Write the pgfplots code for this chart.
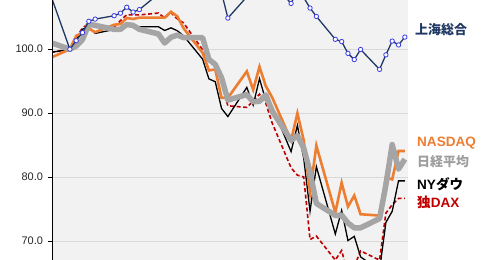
\documentclass[border=0pt]{standalone}
\usepackage{pgfplots}
\usepackage{pgfplotstable}
\pgfplotsset{compat=1.18}
\usepackage{fontspec}
\setmainfont{Liberation Sans}
\newfontfamily\jp{Noto Sans CJK JP}

\definecolor{plotbg}{HTML}{F2F2F2}
\definecolor{gridc}{HTML}{D9D9D9}
\definecolor{navy}{HTML}{1F3864}
\definecolor{mkblue}{HTML}{3C3CE6}
\definecolor{nasdaq}{HTML}{ED7D31}
\definecolor{nikkei}{HTML}{A5A5A5}
\definecolor{dax}{HTML}{C00000}

% day index: 0 = base day (=100)
\pgfplotstableread{
d v
-3 108.37
0 100.00
1 101.34
2 102.60
3 104.37
4 104.71
7 105.24
8 105.64
9 106.57
10 105.81
11 106.20
14 108.63
15 108.72
16 108.52
17 110.46
18 110.88
21 110.50
22 110.17
23 108.64
24 108.83
25 104.87
28 108.20
29 108.98
30 109.65
31 111.84
32 110.48
35 107.16
36 109.29
37 108.08
38 106.44
39 105.13
42 101.55
43 101.20
44 99.35
45 98.38
46 99.96
49 96.85
50 99.12
51 101.27
52 100.67
53 101.90
}\sse

\pgfplotstableread{
d v
-3 98.68
0 100.00
1 102.10
2 102.54
3 103.22
4 102.66
7 103.83
8 103.94
9 104.88
10 104.73
11 104.94
14 104.94
15 104.95
16 105.86
17 105.15
18 103.27
21 99.44
22 96.68
23 96.85
24 92.38
25 92.39
28 96.54
29 93.65
30 97.25
31 94.23
32 92.48
35 85.74
36 89.98
37 85.75
38 77.66
39 84.92
42 74.46
43 79.10
44 75.38
45 77.11
46 74.19
49 73.98
50 79.99
51 79.63
52 84.08
53 84.08
}\nasdaq

\pgfplotstableread{
d v
-3 101.02
0 100.00
1 100.49
2 101.51
3 103.92
4 103.73
7 103.11
8 103.11
9 103.87
10 103.72
11 103.11
14 102.40
15 100.97
16 101.87
17 102.21
18 101.81
21 101.81
22 98.40
23 97.62
24 95.54
25 92.04
28 92.91
29 91.78
30 91.85
31 92.85
32 90.33
35 85.75
36 86.49
37 84.52
38 80.79
39 75.88
42 74.01
43 74.05
44 72.81
45 72.06
46 72.06
49 73.51
50 78.76
51 85.09
52 81.25
53 82.80
}\nikkei

\pgfplotstableread{
d v
-3 99.49
0 100.00
1 101.44
2 103.14
3 103.45
4 102.47
7 103.09
8 103.09
9 104.06
10 103.60
11 103.52
14 103.52
15 102.93
16 103.34
17 102.89
18 102.09
21 98.45
22 95.36
23 94.92
24 90.73
25 89.47
28 94.03
29 91.26
30 95.39
31 91.98
32 91.07
35 83.98
36 88.09
37 82.93
38 74.65
39 81.64
42 71.09
43 74.78
44 70.07
45 70.73
46 67.51
49 65.46
50 72.91
51 74.65
52 79.41
53 79.41
}\dow

\pgfplotstableread{
d v
-3 99.52
0 100.00
1 101.81
2 103.32
3 104.06
4 103.59
7 103.44
8 104.47
9 105.40
10 105.37
11 105.36
14 105.66
15 104.88
16 105.70
17 104.74
18 104.10
21 99.92
22 98.05
23 97.93
24 94.80
25 91.15
28 90.90
29 91.88
30 92.97
31 91.56
32 88.48
35 81.45
36 80.30
37 80.02
38 70.23
39 70.77
42 67.02
43 68.52
44 64.71
45 66.01
46 68.45
49 67.01
50 74.36
51 75.69
52 76.66
53 76.66
}\dax

\begin{document}
\begin{tikzpicture}
\begin{axis}[
  at={(0,0)}, anchor=south west,
  scale only axis, width=355bp, height=260bp,
  xmin=-2.67, xmax=53.5, ymin=67.03, ymax=107.7,
  axis x line=none, axis y line*=left,
  axis line style={black, line width=1bp, -},
  axis background/.style={fill=plotbg},
  xtick=\empty, ytick={70,80,90,100},
  ymajorgrids, grid style={gridc, line width=0.8bp},
  tick align=outside, major tick length=5bp,
  tick style={black, line width=0.8bp},
  /pgf/number format/assume math mode=true,
  yticklabel style={font=\fontsize{11}{13}\selectfont, text=black!85, xshift=-1.5bp,
    /pgf/number format/.cd, fixed, fixed zerofill, precision=1},
]
\addplot[dax, line width=1.6bp, dash pattern=on 4bp off 2.5bp] table[x=d,y=v] {\dax};
\addplot[black, line width=1.3bp] table[x=d,y=v] {\dow};
\addplot[nasdaq, line width=2.6bp] table[x=d,y=v] {\nasdaq};
\addplot[nikkei, line width=5.5bp, line join=round] table[x=d,y=v] {\nikkei};
\addplot[navy, line width=1.3bp, mark=*, mark size=2.2bp,
  mark options={draw=mkblue, fill=white, line width=0.8bp, solid}] table[x=d,y=v] {\sse};
\end{axis}
\begin{scope}[every node/.style={anchor=west, inner sep=0pt}]
\node[text=navy, font=\jp\bfseries\fontsize{13}{15}\selectfont] at (362bp,230bp) {上海総合};
\node[text=nasdaq, font=\bfseries\fontsize{13.6}{15}\selectfont] at (364bp,117.3bp) {NASDAQ};
\node[text=nikkei!95!black, font=\jp\bfseries\fontsize{13}{15}\selectfont] at (364bp,98.3bp) {日経平均};
\node[text=black, font=\bfseries\fontsize{13.6}{15}\selectfont] at (364bp,76bp) {NY{\jp ダウ}};
\node[text=dax, font=\bfseries\fontsize{13.6}{15}\selectfont] at (364bp,57.3bp) {{\jp 独}DAX};
\end{scope}
\pgfresetboundingbox
\path[use as bounding box] (-53bp,0) rectangle (444bp,260bp);
\end{tikzpicture}
\end{document}
